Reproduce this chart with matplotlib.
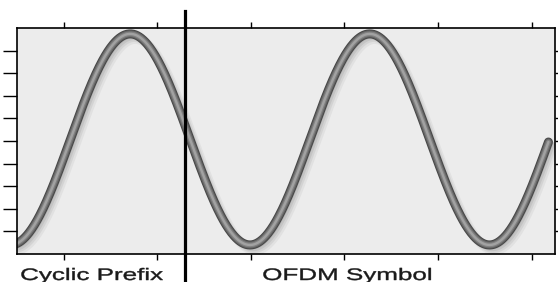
import numpy as np
import matplotlib
matplotlib.use('Agg')
import matplotlib.pyplot as plt
from matplotlib.transforms import offset_copy, Affine2D
from matplotlib.patheffects import AbstractPathEffect

# Wave (axis units: one x tick = 1, one y tick = 1)
peak_x = 1.21        # first crest
period = 2.56        # crest-to-crest distance
mid_level = 5.07
amplitude = 4.67
wave_start = -0.02
wave_end = 5.68

cp_boundary = 1.795  # end of cyclic prefix
x_ticks = [0.5, 1.5, 2.5, 3.5, 4.5, 5.5]
y_ticks = [1, 2, 3, 4, 5, 6, 7, 8, 9]
labels = ['Cyclic Prefix', 'OFDM Symbol']
label_x = [0.80, 3.53]


class WideText(AbstractPathEffect):
    """Stretch glyphs horizontally around the text anchor, slightly emboldened."""
    def __init__(self, sx, anchor, weight=0.5):
        super().__init__()
        self.sx = sx
        self.anchor = anchor
        self.weight = weight

    def draw_path(self, renderer, gc, tpath, affine, rgbFace=None):
        cx = self.anchor()
        aff = affine + Affine2D().translate(-cx, 0).scale(self.sx, 1).translate(cx, 0)
        gc0 = renderer.new_gc()
        gc0.copy_properties(gc)
        gc0.set_linewidth(self.weight)
        gc0.set_foreground(rgbFace)
        renderer.draw_path(gc0, tpath, aff, rgbFace)
        gc0.restore()


x = np.linspace(wave_start, wave_end, 800)
y = mid_level + amplitude * np.cos(2 * np.pi * (x - peak_x) / period)

fig = plt.figure(figsize=(5.58, 2.82), dpi=100)
ax = fig.add_axes([17 / 558, 28 / 282, 538 / 558, 226 / 282])
ax.set_facecolor('#ececec')
ax.set_xlim(0, 5.75)
ax.set_ylim(0, 10)

# soft drop shadow
for d, a, w in [(5, 0.08, 10), (4, 0.10, 8), (3, 0.13, 6.5), (2, 0.16, 5)]:
    tr = offset_copy(ax.transData, fig=fig, x=d, y=-d, units='dots')
    ax.plot(x, y, color='#606060', alpha=a, lw=w * 0.72, transform=tr,
            solid_capstyle='round')

# tube: dark rim, lighter core
for col, w in [('#474747', 9), ('#646464', 7), ('#818181', 4.8), ('#a2a2a2', 2.4)]:
    ax.plot(x, y, color=col, lw=w * 0.72, solid_capstyle='round')

ax.axvline(cp_boundary, ymin=-0.13, ymax=1.075, color='black', lw=2.3, clip_on=False)

ax.set_xticks(x_ticks)
ax.set_yticks(y_ticks)
ax.tick_params(axis='x', which='both', top=True, bottom=True, direction='out',
               length=4, width=1, labelbottom=False)
ax.tick_params(axis='y', which='both', left=True, right=True, direction='out',
               length=10, width=1, labelleft=False)
for s in ax.spines.values():
    s.set_linewidth(1.2)

for t, lx in zip(labels, label_x):
    anchor = lambda lx=lx: ax.transData.transform((lx, 0))[0]
    ax.text(lx, -0.62, t, ha='center', va='top', fontsize=12,
            family='Liberation Sans', color='#1a1a1a',
            path_effects=[WideText(1.56, anchor, weight=0.3)])

fig.savefig('out.png', dpi=100)
